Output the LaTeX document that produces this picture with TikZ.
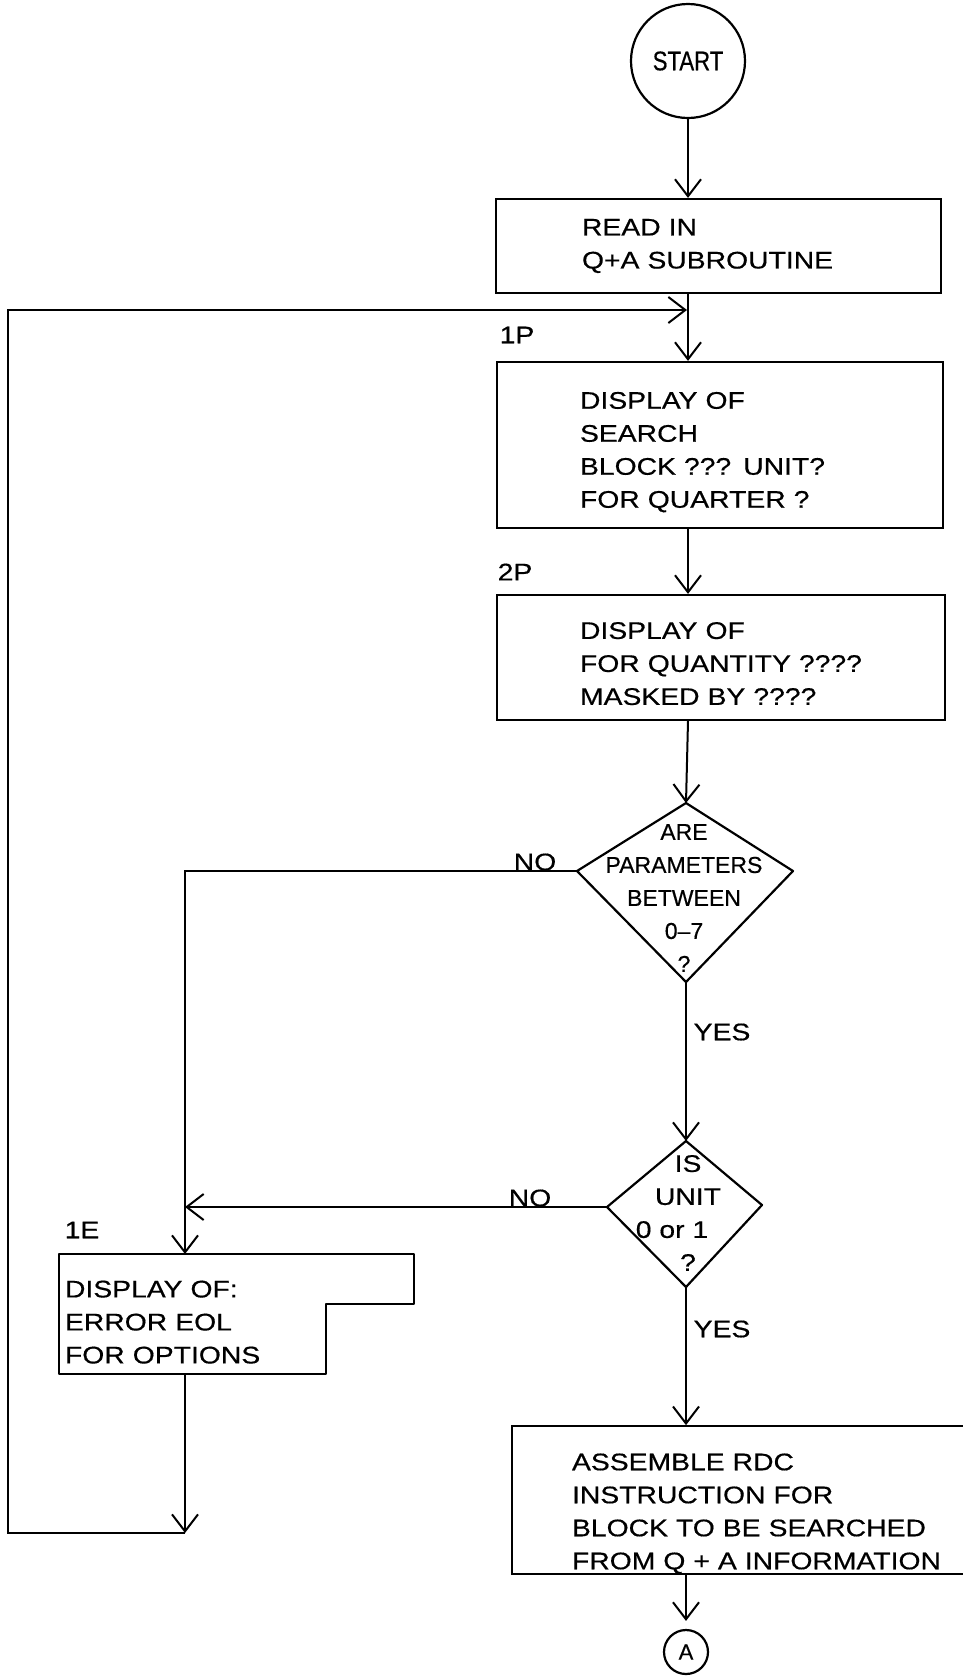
\documentclass[tikz,border=0pt]{standalone}
\usepackage{fontspec}
\newfontfamily\chartfont{Liberation Sans}[FakeStretch=1.18, FakeBold=0.5]
\newfontfamily\plainfont{Liberation Sans}[FakeBold=0.5]
\newfontfamily\tallfont{Liberation Sans}[FakeStretch=0.82, FakeBold=0.5]
\usetikzlibrary{arrows.meta, calc, positioning}
\newcommand{\boxpad}[1]{\rule{0pt}{#1}}

\begin{document}
\begin{tikzpicture}[x=1pt, y=-1pt, line width=2pt,
    arr/.style={-{Straight Barb[length=17pt, width=26pt, line width=2pt]}},
    txt/.style={font=\chartfont\fontsize{24}{33}\selectfont},
    proc/.style={txt, draw, line width=2.2pt, align=left, inner ysep=0pt},
    lbl/.style={txt, inner sep=0pt},
    term/.style={draw, circle, line width=2.2pt, inner sep=0pt},
    kite/.style={line width=2.2pt, line join=round}]
    \useasboundingbox (0,0) rectangle (962,1679);

    \node[term, minimum size=114pt, font=\tallfont\fontsize{27}{30}\selectfont] (start) at (688,61) {START};
    \node[proc, minimum height=94pt, inner xsep=86pt, text width=273pt] (rd) at (718.5,246) {READ IN\\Q+A SUBROUTINE};
    \node[proc, minimum height=166pt, inner xsep=83pt, text width=280pt] (sb) at (720,445) {\boxpad{31pt}DISPLAY OF\\SEARCH\\BLOCK ??? UNIT?\\FOR QUARTER ?};
    \node[proc, minimum height=125pt, inner xsep=83pt, text width=282pt] (qb) at (721,657.5) {\boxpad{29pt}DISPLAY OF\\FOR QUANTITY ????\\MASKED BY ????};
    \node[proc, minimum height=144pt, inner xsep=60pt, text width=380pt] (ab) at (762,1500) {\boxpad{44pt}ASSEMBLE RDC\\INSTRUCTION FOR\\BLOCK TO BE SEARCHED\\FROM Q + A INFORMATION};
    \node[term, minimum size=44pt, font=\plainfont\fontsize{22}{24}\selectfont] (ca) at (686,1652) {A};

    % decision kites
    \coordinate (d1t) at (686,803);
    \coordinate (d1r) at (793,871);
    \coordinate (d1b) at (686,982);
    \coordinate (d1l) at (577,871);
    \draw[kite] (d1t) -- (d1r) -- (d1b) -- (d1l) -- cycle;
    \node[align=center, inner sep=0pt, font=\plainfont\fontsize{23}{33}\selectfont] (d1) at (684,898) {ARE\\PARAMETERS\\BETWEEN\\0–7\\?};

    \coordinate (d2t) at (686,1141);
    \coordinate (d2r) at (762,1205);
    \coordinate (d2b) at (686,1287);
    \coordinate (d2l) at (607,1207);
    \draw[kite] (d2t) -- (d2r) -- (d2b) -- (d2l) -- cycle;
    \node[txt, align=center, inner sep=0pt] (d2) at (688,1213) {IS\\UNIT\\0 or 1\kern32pt\\?};

    % error box with the step
    \node[txt, align=left, inner xsep=5pt, inner ysep=0pt, text width=255pt, minimum height=118pt] (eb) at (192.5,1314) {\boxpad{33pt}DISPLAY OF:\\ERROR EOL\\FOR OPTIONS};
    \draw[kite] (eb.north west) -- ++(355,0) -- ++(0,50) -| (eb.south east) -- (eb.south west) -- cycle;

    \node[lbl] (l1p) at (517,335) {1P};
    \node[lbl] (l2p) at (515,572) {2P};
    \node[lbl] (l1e) at (82,1230) {1E};
    \node[lbl] (no1) at (535,862) {NO};
    \node[lbl] (no2) at (530,1198) {NO};
    \node[lbl] (yes1) at (722,1032) {YES};
    \node[lbl] (yes2) at (722,1329) {YES};

    \coordinate (nc) at (185,871);
    \coordinate (jn) at (185,1533);
    \coordinate (lb) at (8,1533);
    \coordinate (loopin) at (687,310);

    \draw[arr] (start) -- (start |- rd.north);
    \draw[arr] (start |- rd.south) -- (start |- sb.north);
    \draw[arr] (start |- sb.south) -- (start |- qb.north);
    \draw[arr] (start |- qb.south) -- (d1t);
    \draw[arr] (d1b) -- (d2t);
    \draw[arr] (d2b) -- (d2b |- ab.north);
    \draw[arr, shorten >=8pt] (d2b |- ab.south) -- (ca);
    \draw[arr] (d1l) -- (nc) -- (nc |- eb.north);
    \draw[arr] (d2l) -- (nc |- d2l);
    \draw[arr] (nc |- eb.south) -- (jn);
    \draw[arr] (jn) -- (lb) |- (loopin);
\end{tikzpicture}
\end{document}
